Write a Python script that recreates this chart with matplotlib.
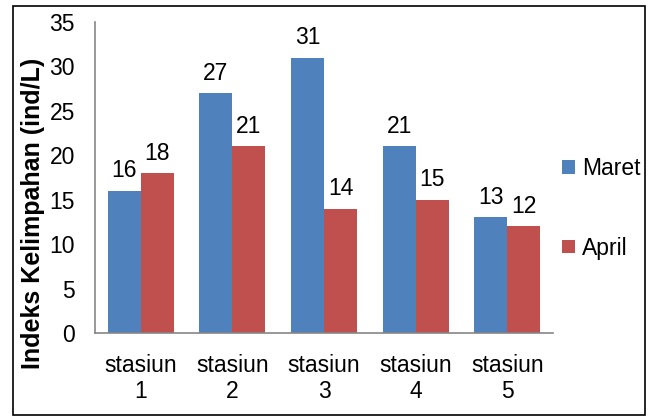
import matplotlib.pyplot as plt
import numpy as np
from matplotlib.patches import Rectangle

plt.rcParams["font.family"] = ["Liberation Sans", "DejaVu Sans"]

stations = ["stasiun\n1", "stasiun\n2", "stasiun\n3", "stasiun\n4", "stasiun\n5"]
maret = [16, 27, 31, 21, 13]
april = [18, 21, 14, 15, 12]

BLUE = "#4f81bd"
RED = "#c0504d"
FS = 16.5

W, H = 649, 417
fig = plt.figure(figsize=(W / 100, H / 100), dpi=100)
ax = fig.add_axes([95 / W, (H - 333) / H, 458 / W, (333 - 22) / H])

x = np.arange(len(stations))
bw = 0.36
b1 = ax.bar(x - bw / 2, maret, bw, color=BLUE, label="Maret")
b2 = ax.bar(x + bw / 2, april, bw, color=RED, label="April")

for bars, vals in ((b1, maret), (b2, april)):
    for rect, v in zip(bars, vals):
        ax.annotate(str(v), (rect.get_x() + rect.get_width() / 2, v),
                    xytext=(0, 6), textcoords="offset points",
                    ha="center", va="bottom", fontsize=FS)

ax.set_xlim(-0.5, len(stations) - 0.5)
ax.set_ylim(0, 35)
ax.set_yticks(range(0, 36, 5))
ax.set_xticks(x)
ax.set_xticklabels(stations, fontsize=FS, linespacing=1.15)
ax.tick_params(axis="y", length=0, pad=14.5, labelsize=FS)
ax.tick_params(axis="x", length=0, pad=15)
for side in ("top", "right"):
    ax.spines[side].set_visible(False)
for side in ("left", "bottom"):
    ax.spines[side].set_color("#868686")
    ax.spines[side].set_linewidth(1.2)

fig.text(33 / W, 1 - 213 / H, "Indeks Kelimpahan (ind/L)", rotation=90,
         ha="center", va="center", fontsize=18, fontweight="bold")

fig.legend(handles=[b1, b2], loc="upper left", bbox_to_anchor=(551 / W, 1 - 146 / H),
           frameon=False, fontsize=FS, handlelength=0.55, handleheight=0.55,
           handletextpad=0.3, labelspacing=2.45, borderpad=0)

fig.patches.append(Rectangle((13 / W, 2 / H), (645 - 13) / W, (411 - 2) / H,
                             transform=fig.transFigure, fill=False,
                             edgecolor="black", linewidth=1.2))

fig.savefig("out.png", dpi=100)
